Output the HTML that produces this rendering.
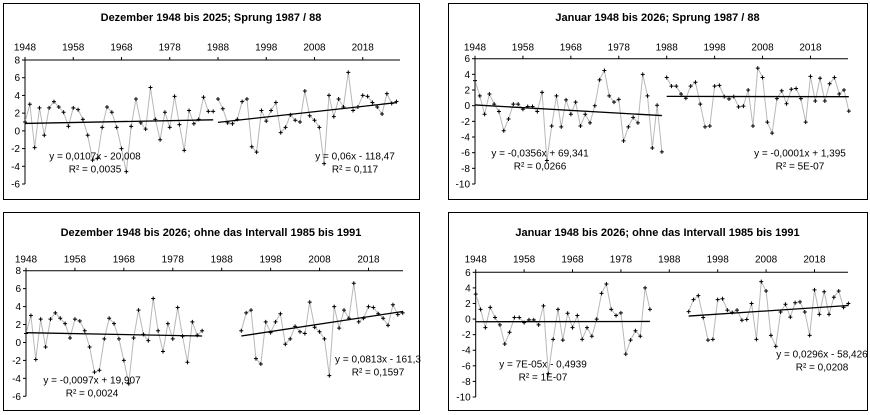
<!DOCTYPE html>
<html><head><meta charset="utf-8">
<style>
html,body{margin:0;padding:0;background:#fff;}
svg{display:block;font-family:"Liberation Sans",Arial,sans-serif;}
</style></head>
<body>
<svg id="chart" width="870" height="415" viewBox="0 0 870 415" xmlns="http://www.w3.org/2000/svg"></svg>
<script>
// December values 1948..2025
const decYears = [];
for (let y = 1948; y <= 2025; y++) decYears.push(y);
const decValues = [1.0,3.0,-1.9,2.6,-0.5,2.6,3.3,2.7,2.1,0.5,
  2.6,2.4,1.3,-0.5,-3.3,-3.1,0.4,2.7,2.1,0.4,
  -2.0,-4.6,0.5,3.6,0.9,0.2,4.9,1.3,-1.0,2.1,
  0.4,3.9,0.7,-2.2,2.3,0.8,1.3,3.8,2.2,2.2,
  3.6,2.5,0.9,0.8,1.3,3.3,3.6,-1.8,-2.4,2.3,
  1.1,2.3,3.2,-0.2,0.4,1.8,1.2,1.0,4.5,1.7,
  1.2,0.4,-3.7,4.0,1.6,3.6,2.7,6.6,2.3,2.7,
  4.0,3.9,3.2,2.7,1.9,4.2,3.1,3.3];
// January values 1948..2026
const janYears = [];
for (let y = 1948; y <= 2026; y++) janYears.push(y);
const janValues = [3.2,1.25,-1.1,1.5,0.2,-0.75,-3.2,-1.7,0.2,0.2,
  -0.45,-0.1,-0.1,-0.75,1.7,-7.0,-2.6,1.25,-2.7,0.75,
  -1.1,0.45,-2.6,-1.1,-2.2,0.0,3.3,4.5,1.25,0.45,
  0.8,-4.5,-2.7,-1.5,-2.2,4.0,1.25,-5.4,0.05,-5.9,
  3.6,2.5,2.5,1.5,0.95,2.5,3.0,0.2,-2.7,-2.6,
  2.5,2.6,1.15,0.85,1.15,-0.15,-0.05,2.0,-2.6,4.8,
  3.6,-2.1,-3.5,0.9,1.9,0.25,2.1,2.2,0.9,-2.1,
  3.75,0.6,3.5,0.6,2.8,3.6,1.5,2.0,-0.7];
const yearTicks = [1948,1958,1968,1978,1988,1998,2008,2018];
const decYTicks = [8,6,4,2,0,-2,-4,-6];
const janYTicks = [6,4,2,0,-2,-4,-6,-8,-10];

const panels = [
  {name:'dez-sprung', box:[3,3,419,199], title:'Dezember 1948 bis 2025; Sprung 1987 / 88', titleY:17, yearY:47,
   x0:25, x40:218, xEnd:400, yTop:60, yBot:184, vMax:8, vMin:-6, ticks:decYTicks,
   years:decYears, vals:decValues, segs:[[1948,1987],[1988,2025]],
   eqs:[['y = 0,0107x - 20,008','R² = 0,0035',95,156],['y = 0,06x - 118,47','R² = 0,117',355,156]]},
  {name:'jan-sprung', box:[448,3,867,199], title:'Januar 1948 bis 2026; Sprung 1987 / 88', titleY:17, yearY:47,
   x0:475, x40:666.7, xEnd:848, yTop:58.7, yBot:184, vMax:6, vMin:-10, ticks:janYTicks,
   years:janYears, vals:janValues, segs:[[1948,1987],[1988,2026]],
   eqs:[['y = -0,0356x + 69,341','R² = 0,0266',540,153],['y = -0,0001x + 1,395','R² = 5E-07',800,153]]},
  {name:'dez-ohne', box:[3,212,419,410], title:'Dezember 1948 bis 2026; ohne das Intervall 1985 bis 1991', titleY:232, yearY:259,
   x0:26, x40:221.7, xEnd:403, yTop:270.7, yBot:396.3, vMax:8, vMin:-6, ticks:decYTicks,
   years:decYears, vals:decValues, segs:[[1948,1984],[1992,2025]],
   eqs:[['y = -0,0097x + 19,907','R² = 0,0024',92,380],['y = 0,0813x - 161,3','R² = 0,1597',378,359]]},
  {name:'jan-ohne', box:[448,212,867,410], title:'Januar 1948 bis 2026; ohne das Intervall 1985 bis 1991', titleY:232, yearY:259,
   x0:475.7, x40:669.3, xEnd:848, yTop:272.3, yBot:397, vMax:6, vMin:-10, ticks:janYTicks,
   years:janYears, vals:janValues, segs:[[1948,1984],[1992,2025]],
   eqs:[['y = 7E-05x - 0,4939','R² = 1E-07',543,364],['y = 0,0296x - 58,426','R² = 0,0208',822,354]]}
];

const svg = document.getElementById('chart');
const NS = 'http://www.w3.org/2000/svg';
function mk(tag, attrs, parent){
  const e = document.createElementNS(NS, tag);
  for (const k in attrs) e.setAttribute(k, attrs[k]);
  (parent||svg).appendChild(e);
  return e;
}

panels.forEach(p => {
  const g = mk('g', {});
  
  
  const xs = yr => p.x0 + (yr - 1948) * (p.x40 - p.x0) / 40;
  const ys = v => p.yTop + (p.vMax - v) * (p.yBot - p.yTop) / (p.vMax - p.vMin);
  const [bx1,by1,bx2,by2] = p.box;
  const frame = mk('rect', {x:bx1+0.5, y:by1+0.5, width:bx2-bx1, height:by2-by1, fill:'#fff', stroke:'#000', 'stroke-width':1}, g);
  
  
  const t = mk('text', {x:(bx1+bx2)/2, y:p.titleY+4, 'text-anchor':'middle', 'font-size':11, 'font-weight':'bold'}, g);
  t.textContent = p.title;
  
  
  const xa = mk('line', {x1:xs(1948), y1:p.yTop, x2:p.xEnd, y2:p.yTop, stroke:'#000', 'stroke-width':1}, g);
  
  
  const ya = mk('line', {x1:xs(1948), y1:p.yTop, x2:xs(1948), y2:p.yBot, stroke:'#000', 'stroke-width':1}, g);
  
  
  yearTicks.forEach(yr => {
    const l = mk('text', {x:xs(yr), y:p.yearY+3.5, 'text-anchor':'middle', 'font-size':10}, g);
    l.textContent = yr;
    
    
    mk('line', {x1:xs(yr), y1:p.yTop-3, x2:xs(yr), y2:p.yTop, stroke:'#000'}, g);
  });
  p.ticks.forEach(v => {
    mk('line', {x1:xs(1948)-3, y1:ys(v), x2:xs(1948), y2:ys(v), stroke:'#000'}, g);
    const l = mk('text', {x:xs(1948)-5, y:ys(v)+3.5, 'text-anchor':'end', 'font-size':10}, g);
    l.textContent = v;
    
    
  });
  p.segs.forEach((s, si) => {
    const pts = [];
    p.years.forEach((yr, i) => { if (yr >= s[0] && yr <= s[1]) pts.push([yr, p.vals[i]]); });
    const line = mk('polyline', {points: pts.map(q => xs(q[0]) + ',' + ys(q[1])).join(' '), fill:'none', stroke:'#b8b8b8', 'stroke-width':1}, g);
    
    
    pts.forEach(q => {
      const cx = xs(q[0]), cy = ys(q[1]);
      const m = mk('path', {d:`M${cx-2},${cy}H${cx+2}M${cx},${cy-2}V${cy+2}`, stroke:'#000', 'stroke-width':1}, g);
      
      
    });
    const n = pts.length;
    const mx = pts.reduce((a,q)=>a+q[0],0)/n, my = pts.reduce((a,q)=>a+q[1],0)/n;
    let sxy=0, sxx=0;
    pts.forEach(q => { sxy += (q[0]-mx)*(q[1]-my); sxx += (q[0]-mx)**2; });
    const b = sxy/sxx, a = my - b*mx;
    const tl = mk('line', {x1:xs(s[0]), y1:ys(a+b*s[0]), x2:xs(s[1]), y2:ys(a+b*s[1]), stroke:'#000', 'stroke-width':1.3}, g);
    
    
    const e = p.eqs[si];
    const t1 = mk('text', {x:e[2], y:e[3]+3.5, 'text-anchor':'middle', 'font-size':10}, g);
    t1.textContent = e[0];
    
    
    const t2 = mk('text', {x:e[2], y:e[3]+16.5, 'text-anchor':'middle', 'font-size':10}, g);
    t2.textContent = e[1];
    
    
  });
});
</script>
</body></html>
